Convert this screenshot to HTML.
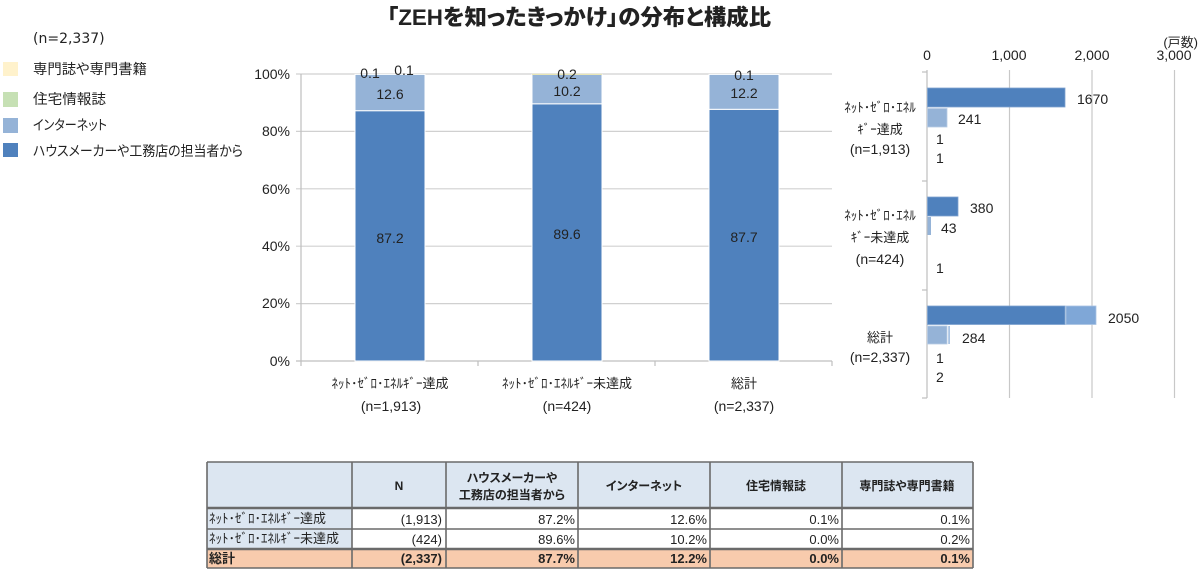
<!DOCTYPE html>
<html>
<head>
<meta charset="utf-8">
<style>
html,body{margin:0;padding:0;background:#fff;}
body{width:1200px;height:572px;overflow:hidden;}
svg{display:block;}
text{font-family:"Liberation Sans","Noto Sans CJK JP",sans-serif;fill:#222;}
.jp{font-feature-settings:"palt";}
</style>
</head>
<body>
<svg width="1200" height="572" viewBox="0 0 1200 572" xmlns="http://www.w3.org/2000/svg">
  <!-- Title -->
  <text x="387" y="25" font-size="22" font-weight="900" class="jp" fill="#000" textLength="384" lengthAdjust="spacingAndGlyphs">「ZEHを知ったきっかけ」の分布と構成比</text>

  <!-- Legend -->
  <text x="33" y="43" font-size="14" style="font-family:'DejaVu Sans','Liberation Sans',sans-serif">(n=2,337)</text>
  <rect x="3" y="62" width="15" height="14" fill="#FFF2CC"/>
  <text x="33" y="74" font-size="14" class="jp" textLength="114" lengthAdjust="spacingAndGlyphs">専門誌や専門書籍</text>
  <rect x="3" y="92" width="15" height="15" fill="#C6E0B4"/>
  <text x="33" y="104" font-size="14" class="jp" textLength="73" lengthAdjust="spacingAndGlyphs">住宅情報誌</text>
  <rect x="3" y="118" width="15" height="15" fill="#95B3D7"/>
  <text x="33" y="130" font-size="14" class="jp" textLength="74" lengthAdjust="spacingAndGlyphs">インターネット</text>
  <rect x="3" y="143" width="15" height="14" fill="#4F81BD"/>
  <text x="33" y="156" font-size="14" class="jp" textLength="210" lengthAdjust="spacingAndGlyphs">ハウスメーカーや工務店の担当者から</text>

  <!-- Left chart gridlines -->
  <g stroke="#D0D0D0" stroke-width="1.2">
    <line x1="296" y1="74" x2="832" y2="74"/>
    <line x1="296" y1="131.4" x2="832" y2="131.4"/>
    <line x1="296" y1="188.8" x2="832" y2="188.8"/>
    <line x1="296" y1="246.2" x2="832" y2="246.2"/>
    <line x1="296" y1="303.6" x2="832" y2="303.6"/>
  </g>
  <g stroke="#BFBFBF" stroke-width="1.2">
    <line x1="301" y1="74" x2="301" y2="361"/>
    <line x1="296" y1="361" x2="832" y2="361"/>
    <line x1="301" y1="361" x2="301" y2="366"/>
    <line x1="478" y1="361" x2="478" y2="366"/>
    <line x1="655" y1="361" x2="655" y2="366"/>
    <line x1="832" y1="361" x2="832" y2="366"/>
  </g>
  <!-- Y labels -->
  <g font-size="14" text-anchor="end">
    <text x="290" y="79">100%</text>
    <text x="290" y="136">80%</text>
    <text x="290" y="194">60%</text>
    <text x="290" y="251">40%</text>
    <text x="290" y="308">20%</text>
    <text x="290" y="366">0%</text>
  </g>

  <!-- Bars -->
  <g stroke="#fff" stroke-width="1">
    <rect x="355" y="110.7" width="70" height="250.3" fill="#4F81BD"/>
    <rect x="355" y="74.4" width="70" height="36.3" fill="#95B3D7"/>
    <rect x="532" y="103.8" width="70" height="257.2" fill="#4F81BD"/>
    <rect x="532" y="74.4" width="70" height="29.4" fill="#95B3D7"/>
    <rect x="709" y="109.3" width="70" height="251.7" fill="#4F81BD"/>
    <rect x="709" y="74.4" width="70" height="34.9" fill="#95B3D7"/>
  </g>
  <line x1="532" y1="74.3" x2="602" y2="74.3" stroke="#E8E3A0" stroke-width="0.8"/>

  <!-- Data labels -->
  <g font-size="14" text-anchor="middle">
    <text x="370" y="78">0.1</text>
    <text x="404" y="75">0.1</text>
    <text x="390" y="99">12.6</text>
    <text x="390" y="243">87.2</text>
    <text x="567" y="79">0.2</text>
    <text x="567" y="96">10.2</text>
    <text x="567" y="239">89.6</text>
    <text x="744" y="80">0.1</text>
    <text x="744" y="98">12.2</text>
    <text x="744" y="242">87.7</text>
  </g>

  <!-- Category labels -->
  <g font-size="13" text-anchor="middle">
    <text x="390" y="388">ﾈｯﾄ･ｾﾞﾛ･ｴﾈﾙｷﾞｰ達成</text>
    <text x="391" y="411" font-size="14">(n=1,913)</text>
    <text x="567" y="388">ﾈｯﾄ･ｾﾞﾛ･ｴﾈﾙｷﾞｰ未達成</text>
    <text x="567" y="411" font-size="14">(n=424)</text>
    <text x="744" y="388">総計</text>
    <text x="744" y="411" font-size="14">(n=2,337)</text>
  </g>

  <!-- Right chart -->
  <g stroke="#C8C8C8" stroke-width="1.2">
    <line x1="1009.5" y1="70" x2="1009.5" y2="398"/>
    <line x1="1092" y1="70" x2="1092" y2="398"/>
    <line x1="1174.5" y1="70" x2="1174.5" y2="398"/>
  </g>
  <g stroke="#BFBFBF" stroke-width="1.2">
    <line x1="927" y1="70" x2="927" y2="398"/>
    <line x1="922" y1="72" x2="927" y2="72"/>
    <line x1="922" y1="181" x2="927" y2="181"/>
    <line x1="922" y1="290" x2="927" y2="290"/>
    <line x1="922" y1="398" x2="927" y2="398"/>
  </g>
  <g font-size="14" text-anchor="middle">
    <text x="927" y="60">0</text>
    <text x="1009" y="60">1,000</text>
    <text x="1092" y="60">2,000</text>
    <text x="1174" y="60">3,000</text>
  </g>
  <text x="1198" y="47" font-size="13" text-anchor="end">(戸数)</text>

  <!-- Right chart category labels -->
  <g font-size="13" text-anchor="middle">
    <text x="880" y="112">ﾈｯﾄ･ｾﾞﾛ･ｴﾈﾙ</text>
    <text x="880" y="134">ｷﾞｰ達成</text>
    <text x="880" y="154" font-size="14">(n=1,913)</text>
    <text x="880" y="220">ﾈｯﾄ･ｾﾞﾛ･ｴﾈﾙ</text>
    <text x="880" y="242">ｷﾞｰ未達成</text>
    <text x="880" y="264" font-size="14">(n=424)</text>
    <text x="880" y="342">総計</text>
    <text x="880" y="362" font-size="14">(n=2,337)</text>
  </g>

  <!-- Right chart bars -->
  <g>
    <rect x="927.5" y="88" width="137.5" height="19" fill="#4F81BD" stroke="#7FA3D0" stroke-width="0.8"/>
    <rect x="927.5" y="108.5" width="19.5" height="18.5" fill="#95B3D7" stroke="#B8CCE4" stroke-width="0.8"/>
    <rect x="927.5" y="197" width="30.5" height="19" fill="#4F81BD" stroke="#7FA3D0" stroke-width="0.8"/>
    <rect x="927.5" y="217" width="3.5" height="18" fill="#95B3D7"/>
    <rect x="927.5" y="306" width="137.5" height="18.5" fill="#4F81BD" stroke="#7FA3D0" stroke-width="0.8"/>
    <rect x="1066" y="306" width="30" height="18.5" fill="#7FA7D7" stroke="#A9C3E3" stroke-width="0.8"/>
    <rect x="927.5" y="326" width="19.5" height="18" fill="#95B3D7" stroke="#B8CCE4" stroke-width="0.8"/>
    <rect x="948.2" y="326" width="1.8" height="18" fill="#A9C3E3"/>
  </g>
  <g font-size="14">
    <text x="1077" y="104">1670</text>
    <text x="958" y="124">241</text>
    <text x="936" y="144">1</text>
    <text x="936" y="163">1</text>
    <text x="970" y="213">380</text>
    <text x="941" y="233">43</text>
    <text x="936" y="273">1</text>
    <text x="1108" y="323">2050</text>
    <text x="962" y="343">284</text>
    <text x="936" y="363">1</text>
    <text x="936" y="382">2</text>
  </g>

  <!-- Table -->
  <rect x="207" y="462" width="766" height="46" fill="#DCE6F1"/>
  <rect x="207" y="508" width="145" height="41" fill="#DCE6F1"/>
  <rect x="352" y="508" width="621" height="41" fill="#fff"/>
  <rect x="207" y="549" width="766" height="19" fill="#F8CBAD"/>
  <g stroke="#6A6A6A" stroke-width="1.6">
    <line x1="207" y1="462" x2="973" y2="462"/>
    <line x1="207" y1="508" x2="973" y2="508" stroke-width="2.4"/>
    <line x1="207" y1="529" x2="973" y2="529"/>
    <line x1="207" y1="549" x2="973" y2="549" stroke-width="2.4"/>
    <line x1="207" y1="568" x2="973" y2="568"/>
    <line x1="207" y1="462" x2="207" y2="568"/>
    <line x1="352" y1="462" x2="352" y2="568"/>
    <line x1="446" y1="462" x2="446" y2="568"/>
    <line x1="578" y1="462" x2="578" y2="568"/>
    <line x1="710" y1="462" x2="710" y2="568"/>
    <line x1="842" y1="462" x2="842" y2="568"/>
    <line x1="973" y1="462" x2="973" y2="568"/>
  </g>
  <g font-size="12" font-weight="bold" text-anchor="middle" class="jp">
    <text x="399" y="490">N</text>
    <text x="512" y="482">ハウスメーカーや</text>
    <text x="512" y="499">工務店の担当者から</text>
    <text x="644" y="490">インターネット</text>
    <text x="776" y="490">住宅情報誌</text>
    <text x="907" y="490">専門誌や専門書籍</text>
  </g>
  <g font-size="13">
    <text x="209" y="523" font-size="13">ﾈｯﾄ･ｾﾞﾛ･ｴﾈﾙｷﾞｰ達成</text>
    <text x="209" y="543" font-size="13">ﾈｯﾄ･ｾﾞﾛ･ｴﾈﾙｷﾞｰ未達成</text>
    <text x="209" y="563" font-weight="bold">総計</text>
  </g>
  <g font-size="13" text-anchor="end">
    <text x="442" y="524">(1,913)</text>
    <text x="575" y="524">87.2%</text>
    <text x="707" y="524">12.6%</text>
    <text x="839" y="524">0.1%</text>
    <text x="970" y="524">0.1%</text>
    <text x="442" y="544">(424)</text>
    <text x="575" y="544">89.6%</text>
    <text x="707" y="544">10.2%</text>
    <text x="839" y="544">0.0%</text>
    <text x="970" y="544">0.2%</text>
  </g>
  <g font-size="13" text-anchor="end" font-weight="bold">
    <text x="442" y="563">(2,337)</text>
    <text x="575" y="563">87.7%</text>
    <text x="707" y="563">12.2%</text>
    <text x="839" y="563">0.0%</text>
    <text x="970" y="563">0.1%</text>
  </g>
</svg>
</body>
</html>
